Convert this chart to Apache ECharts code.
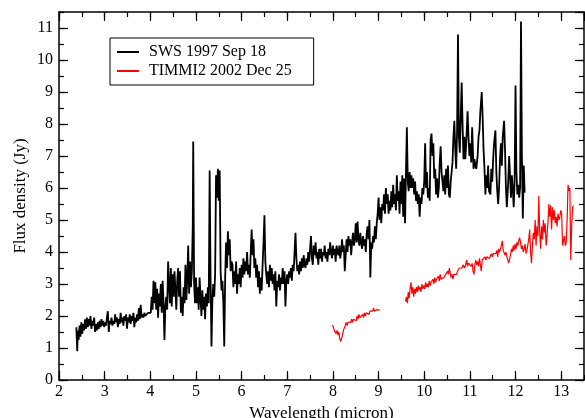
<!DOCTYPE html>
<html>
<head>
<meta charset="utf-8">
<script src="https://cdn.jsdelivr.net/npm/echarts@6.0.0/dist/echarts.min.js"></script>
<style>
  html, body { margin: 0; padding: 0; background: #fff; }
  #chart { width: 585px; height: 418px; }
</style>
</head>
<body>
<div id="chart"></div>
<script>
// SWS 1997 Sep 18 — [wavelength (micron), flux (Jy)]
const sws2to4 = [
  [2.38,1.65],[2.40,0.90],[2.41,1.55],[2.43,1.25],[2.45,1.70],[2.47,1.35],[2.49,1.80],[2.51,1.45],
  [2.53,1.75],[2.55,1.55],[2.57,1.90],[2.59,1.60],[2.61,1.95],[2.63,1.65],[2.65,1.90],[2.67,1.70],
  [2.69,2.00],[2.71,1.60],[2.73,1.85],[2.75,1.70],[2.77,1.95],[2.79,1.50],[2.81,1.75],[2.83,1.55],
  [2.85,1.80],[2.87,1.60],[2.89,1.85],[2.91,1.65],[2.93,1.90],[2.95,1.70],[2.97,1.85],[2.99,1.65],
  [3.01,1.80],[3.03,1.70],[3.05,1.95],[3.07,2.15],[3.09,1.50],[3.11,1.85],[3.13,1.75],[3.15,1.95],
  [3.17,1.70],[3.19,1.85],[3.21,1.75],[3.23,2.05],[3.25,1.80],[3.27,1.95],[3.29,1.65],[3.31,1.90],
  [3.33,1.75],[3.35,2.10],[3.37,1.80],[3.39,1.95],[3.41,1.70],[3.43,2.00],[3.45,1.85],[3.47,2.05],
  [3.49,1.60],[3.51,1.95],[3.53,1.80],[3.55,2.05],[3.57,1.75],[3.59,2.00],[3.61,1.85],[3.63,2.10],
  [3.65,1.65],[3.67,1.95],[3.69,1.80],[3.71,2.05],[3.73,1.85],[3.75,2.25],[3.77,1.90],[3.79,2.35],
  [3.81,1.95],[3.83,2.05],[3.85,1.95],[3.87,2.10],[3.89,2.00],[3.91,2.05],[3.93,2.00],[3.95,2.10],
  [3.97,2.05],[3.99,2.15],[4.01,2.10]
];
const sws4to6 = [
  [4.03,2.60],[4.05,2.20],[4.07,3.10],[4.09,2.40],[4.11,3.05],[4.13,2.20],[4.15,2.85],[4.17,1.95],
  [4.19,2.70],[4.21,2.30],[4.23,3.00],[4.25,2.10],[4.27,3.10],[4.29,2.40],[4.31,1.25],[4.33,2.30],
  [4.35,2.60],[4.37,2.20],[4.39,3.70],[4.41,3.00],[4.43,2.40],[4.45,3.50],[4.47,2.30],[4.49,3.30],
  [4.51,2.60],[4.53,3.40],[4.55,2.80],[4.57,2.20],[4.59,3.10],[4.61,3.50],[4.63,2.60],[4.65,3.40],
  [4.67,2.10],[4.69,2.60],[4.71,2.00],[4.73,2.90],[4.75,2.40],[4.77,3.60],[4.79,2.50],[4.81,3.20],
  [4.83,4.20],[4.85,2.70],[4.87,3.70],[4.89,2.90],[4.91,3.40],[4.93,4.80],[4.94,7.45],[4.96,3.00],
  [4.98,2.40],[5.00,3.20],[5.02,2.40],[5.04,2.90],[5.06,2.20],[5.08,3.20],[5.10,2.60],[5.12,2.00],
  [5.14,2.80],[5.16,2.20],[5.18,2.60],[5.20,1.90],[5.22,2.70],[5.24,2.30],[5.26,2.90],[5.28,2.40],
  [5.30,6.55],[5.32,3.20],[5.34,1.05],[5.36,2.50],[5.38,3.00],[5.40,2.60],[5.42,3.30],[5.44,6.40],
  [5.46,5.70],[5.48,6.60],[5.50,5.60],[5.52,6.55],[5.54,3.40],[5.56,2.80],[5.58,3.10],[5.60,2.40],
  [5.62,1.05],[5.64,3.20],[5.66,4.30],[5.68,3.50],[5.70,4.65],[5.72,3.90],[5.74,4.40],[5.76,3.40],
  [5.78,3.70],[5.80,3.60],[5.82,2.90],[5.84,3.40],[5.86,3.00],[5.88,3.70],[5.90,2.70],[5.92,3.30],
  [5.94,3.00],[5.96,3.50],[5.98,2.90]
];
const sws6to8 = [
  [6.00,3.60],[6.02,3.20],[6.04,3.80],[6.06,3.30],[6.08,3.70],[6.10,3.40],[6.12,4.00],[6.14,3.30],
  [6.16,3.60],[6.18,3.20],[6.20,4.00],[6.22,4.70],[6.24,3.90],[6.26,4.40],[6.28,3.50],[6.30,3.80],
  [6.32,3.20],[6.34,3.60],[6.36,2.90],[6.38,3.40],[6.40,2.70],[6.42,3.20],[6.44,2.80],[6.46,3.60],
  [6.48,4.30],[6.50,5.15],[6.52,3.70],[6.54,3.30],[6.56,3.00],[6.58,3.40],[6.60,2.90],[6.62,3.60],
  [6.64,3.10],[6.66,3.50],[6.68,3.00],[6.70,3.30],[6.72,2.80],[6.74,3.40],[6.76,2.30],[6.78,3.10],
  [6.80,2.90],[6.82,3.30],[6.84,2.80],[6.86,3.20],[6.88,3.00],[6.90,3.50],[6.92,3.00],[6.94,3.40],
  [6.96,2.30],[6.98,3.10],[7.00,3.30],[7.02,3.00],[7.04,3.40],[7.06,3.20],[7.08,3.50],[7.10,3.10],
  [7.12,3.60],[7.14,3.40],[7.16,4.00],[7.18,4.60],[7.20,3.80],[7.22,3.40],[7.24,3.60],[7.26,3.30],
  [7.28,3.70],[7.30,3.40],[7.32,3.80],[7.34,3.50],[7.36,3.90],[7.38,3.60],[7.40,3.50],[7.42,3.80],
  [7.44,3.60],[7.46,4.00],[7.48,3.70],[7.50,4.10],[7.52,4.50],[7.54,3.80],[7.56,3.60],[7.58,4.20],
  [7.60,3.90],[7.62,4.30],[7.64,3.80],[7.66,4.00],[7.68,3.60],[7.70,4.10],[7.72,3.80],[7.74,4.10],
  [7.76,3.70],[7.78,4.00],[7.80,3.90],[7.82,4.20],[7.84,3.80],[7.86,4.00],[7.88,3.70],[7.90,4.10],
  [7.92,3.90],[7.94,4.30],[7.96,4.00],[7.98,3.80]
];
const sws8to10 = [
  [8.00,4.20],[8.02,3.90],[8.04,4.10],[8.06,3.70],[8.08,4.20],[8.10,4.00],[8.12,3.90],[8.14,4.20],
  [8.16,3.80],[8.18,4.00],[8.20,4.40],[8.22,4.00],[8.24,4.20],[8.26,3.40],[8.28,3.90],[8.30,4.40],
  [8.32,4.00],[8.34,4.50],[8.36,4.20],[8.38,4.40],[8.40,3.90],[8.42,4.30],[8.44,4.60],[8.46,4.20],
  [8.48,4.40],[8.50,4.90],[8.52,4.30],[8.54,4.95],[8.56,4.40],[8.58,4.20],[8.60,4.60],[8.62,4.30],
  [8.64,4.10],[8.66,4.50],[8.68,4.20],[8.70,4.40],[8.72,4.00],[8.74,4.60],[8.76,4.80],[8.78,4.40],
  [8.80,5.00],[8.82,3.20],[8.84,4.30],[8.86,4.10],[8.88,4.50],[8.90,4.30],[8.92,4.80],[8.94,4.40],
  [8.96,4.90],[8.98,5.20],[9.00,5.70],[9.02,5.00],[9.04,5.40],[9.06,4.90],[9.08,5.50],[9.10,5.30],
  [9.12,5.80],[9.14,5.20],[9.16,6.00],[9.18,5.50],[9.20,5.80],[9.22,5.20],[9.24,5.60],[9.26,5.30],
  [9.28,5.90],[9.30,5.40],[9.32,6.10],[9.34,5.50],[9.36,5.80],[9.38,5.30],[9.40,6.40],[9.42,5.60],
  [9.44,5.90],[9.46,5.20],[9.48,6.20],[9.50,5.50],[9.52,6.40],[9.54,5.10],[9.56,6.30],[9.58,4.90],
  [9.60,6.50],[9.62,7.90],[9.64,6.20],[9.66,5.90],[9.68,6.50],[9.70,6.00],[9.72,6.40],[9.74,6.00],
  [9.76,6.30],[9.78,5.80],[9.80,6.20],[9.82,5.60],[9.84,5.90],[9.86,5.50],[9.88,5.80],[9.90,5.10],
  [9.92,5.70],[9.94,5.50],[9.96,6.00],[9.98,5.80]
];
const sws10to12 = [
  [10.00,6.20],[10.02,7.40],[10.04,6.00],[10.06,6.50],[10.08,5.70],[10.10,6.00],[10.12,5.60],[10.14,7.50],
  [10.16,7.70],[10.18,7.00],[10.20,7.40],[10.22,6.30],[10.24,6.60],[10.26,5.80],[10.28,6.30],[10.30,5.70],
  [10.32,6.00],[10.34,6.80],[10.36,7.30],[10.38,6.50],[10.40,6.20],[10.42,5.90],[10.44,6.40],[10.46,5.80],
  [10.48,6.60],[10.50,6.00],[10.52,6.70],[10.54,5.80],[10.56,5.70],[10.58,6.20],[10.60,6.50],[10.62,6.80],
  [10.64,7.60],[10.66,8.10],[10.68,7.20],[10.70,6.60],[10.72,7.80],[10.74,10.80],[10.76,7.60],[10.78,7.10],
  [10.80,8.20],[10.82,9.30],[10.84,8.00],[10.86,6.90],[10.88,7.60],[10.90,6.90],[10.92,7.40],[10.95,8.40],
  [10.97,7.60],[10.99,7.00],[11.01,7.40],[11.03,6.80],[11.05,7.90],[11.08,6.60],[11.10,6.90],[11.12,6.70],
  [11.14,6.60],[11.17,7.00],[11.19,7.60],[11.21,7.80],[11.23,8.40],[11.26,9.00],[11.28,8.20],[11.30,7.20],
  [11.32,6.60],[11.34,5.80],[11.36,6.40],[11.38,6.00],[11.40,6.70],[11.42,5.90],[11.45,5.80],[11.47,6.60],
  [11.49,6.20],[11.51,6.90],[11.53,7.40],[11.56,7.80],[11.58,6.50],[11.60,5.90],[11.62,5.50],[11.64,6.00],
  [11.66,6.90],[11.68,7.40],[11.70,6.70],[11.72,7.60],[11.75,8.10],[11.77,7.20],[11.79,6.00],[11.81,5.40],
  [11.84,6.20],[11.86,7.00],[11.88,6.40],[11.90,5.70],[11.92,6.40],[11.94,6.00],[11.96,5.40],[11.98,6.20],
  [12.00,9.20],[12.02,6.50],[12.04,5.80],[12.06,6.10],[12.08,5.70],[12.10,6.00],[12.12,11.20],[12.14,7.00],
  [12.16,5.05],[12.18,6.70],[12.20,5.85]
];

// TIMMI2 2002 Dec 25 — two separate pieces
const timmiShort = [
  [7.99,1.72],[8.01,1.65],[8.03,1.55],[8.05,1.60],[8.07,1.45],[8.09,1.55],[8.11,1.40],[8.13,1.50],
  [8.15,1.30],[8.17,1.20],[8.19,1.15],[8.21,1.40],[8.23,1.55],[8.25,1.50],[8.27,1.70],[8.29,1.80],
  [8.31,1.70],[8.33,1.80],[8.35,1.75],[8.37,1.85],[8.39,1.80],[8.41,1.90],[8.43,1.80],[8.45,1.90],
  [8.47,1.85],[8.49,1.95],[8.51,1.85],[8.53,2.00],[8.55,1.90],[8.57,2.05],[8.59,1.95],[8.61,2.00],
  [8.63,1.95],[8.65,2.05],[8.67,1.95],[8.69,2.10],[8.71,2.00],[8.73,2.10],[8.75,2.05],[8.77,2.15],
  [8.79,2.05],[8.81,2.15],[8.83,2.10],[8.85,2.20],[8.87,2.15],[8.89,2.25],[8.91,2.15],[8.93,2.20],
  [8.95,2.15],[8.97,2.20],[8.99,2.15],[9.01,2.20],[9.03,2.18]
];
const timmiLong = [
  [9.59,2.45],[9.61,2.60],[9.63,2.40],[9.65,2.75],[9.67,2.55],[9.69,2.85],[9.71,3.05],[9.73,2.70],
  [9.75,2.90],[9.77,2.60],[9.79,2.85],[9.81,2.70],[9.83,2.90],[9.85,2.75],[9.87,2.95],[9.89,2.80],
  [9.91,2.90],[9.93,2.75],[9.95,3.00],[9.97,2.85],[9.99,2.95],[10.01,2.85],[10.03,3.05],[10.05,2.90],
  [10.07,3.00],[10.09,2.90],[10.11,3.10],[10.13,2.95],[10.15,3.05],[10.17,3.00],[10.19,3.15],[10.21,3.00],
  [10.23,3.20],[10.25,3.05],[10.27,3.15],[10.29,3.10],[10.31,3.25],[10.33,3.10],[10.35,3.30],[10.37,3.15],
  [10.39,3.20],[10.41,3.10],[10.43,3.20],[10.45,3.15],[10.47,3.30],[10.49,3.25],[10.51,3.40],[10.53,3.30],
  [10.55,3.50],[10.57,3.35],[10.59,3.20],[10.61,3.30],[10.63,3.15],[10.65,3.30],[10.67,3.25],[10.69,3.35],
  [10.71,3.30],[10.73,3.40],[10.75,3.35],[10.77,3.50],[10.79,3.45],[10.81,3.55],[10.83,3.50],[10.85,3.60],
  [10.87,3.55],[10.89,3.50],[10.91,3.55],[10.93,3.75],[10.95,3.55],[10.97,3.65],[10.99,3.60],[11.01,3.70],
  [11.03,3.55],[11.05,3.65],[11.07,3.40],[11.09,3.30],[11.11,3.60],[11.13,3.75],[11.15,3.60],[11.17,3.70],
  [11.19,3.55],[11.21,3.80],[11.23,3.60],[11.25,3.40],[11.27,3.75],[11.29,3.80],[11.31,3.70],[11.33,3.85],
  [11.35,3.75],[11.37,3.85],[11.39,3.80],[11.41,3.90],[11.43,3.80],[11.45,3.85],[11.47,3.95],[11.49,3.85],
  [11.51,3.95],[11.53,3.90],[11.55,4.00],[11.57,3.95],[11.59,4.05],[11.61,3.85],[11.63,4.10],[11.65,4.00],
  [11.67,4.10],[11.69,4.20],[11.71,4.35],[11.73,4.05],[11.75,4.10],[11.77,3.90],[11.79,4.00],[11.81,3.85],
  [11.83,3.90],[11.85,3.65],[11.87,3.60],[11.89,3.90],[11.91,4.10],[11.93,4.00],[11.95,4.20],[11.97,4.05],
  [11.99,4.25],[12.01,4.10],[12.03,4.30],[12.05,4.20],[12.07,4.35],[12.09,4.45],[12.11,4.30],[12.13,4.10],
  [12.15,4.20],[12.17,4.00],[12.19,4.10],[12.21,4.25],[12.23,3.95],[12.25,4.05],[12.27,4.10],[12.29,4.40],
  [12.31,4.70],[12.33,4.00],[12.35,3.65],[12.37,4.20],[12.39,4.60],[12.41,4.40],[12.43,5.00],[12.45,4.20],
  [12.47,4.80],[12.49,4.50],[12.51,5.75],[12.53,4.60],[12.55,4.10],[12.57,4.80],[12.59,4.40],[12.61,5.00],
  [12.63,4.60],[12.65,4.90],[12.67,4.20],[12.69,4.50],[12.71,4.90],[12.73,5.50],[12.75,5.10],[12.77,5.45],
  [12.79,4.70],[12.81,5.40],[12.83,5.00],[12.85,5.30],[12.87,4.90],[12.89,5.10],[12.91,4.80],[12.93,5.20],
  [12.95,5.00],[12.97,5.10],[12.99,5.30],[13.01,5.20],[13.03,4.20],[13.05,4.15],[13.07,4.50],[13.09,4.20],
  [13.11,4.30],[13.13,5.00],[13.15,6.10],[13.17,5.90],[13.19,6.00],[13.21,3.75],[13.23,4.80],[13.25,5.40],
  [13.27,5.45]
];

const xRange = [2, 13.5];
const yRange = [0, 11.5];
const fontFamily = '"Liberation Serif", "DejaVu Serif", serif';

// one axis per side for the long ticks, one more for the short half-step ticks
const makeAxis = (position, range, interval, tickLen, main) => ({
  type: 'value',
  position: position,
  min: range[0],
  max: range[1],
  interval: interval,
  splitLine: { show: false },
  axisLine: { show: main, onZero: false, lineStyle: { color: '#000', width: 1.5 } },
  axisTick: { show: true, inside: true, length: tickLen, lineStyle: { color: '#000', width: 1.2 } },
  axisLabel: { show: false }
})

const xAxes = [
  makeAxis('bottom', xRange, 1, 9, true),
  makeAxis('bottom', xRange, 0.5, 5, false),
  makeAxis('top', xRange, 1, 9, true),
  makeAxis('top', xRange, 0.5, 5, false)
]
xAxes[0].axisLabel = {
  show: true, showMaxLabel: false, margin: 4,
  color: '#000', fontSize: 16, fontFamily: fontFamily
}
xAxes[0].name = 'Wavelength (micron)'
xAxes[0].nameLocation = 'middle'
xAxes[0].nameGap = 22
xAxes[0].nameTextStyle = { color: '#000', fontSize: 17, fontFamily: fontFamily }

const yAxes = [
  makeAxis('left', yRange, 1, 9, true),
  makeAxis('left', yRange, 0.5, 5, false),
  makeAxis('right', yRange, 1, 9, true),
  makeAxis('right', yRange, 0.5, 5, false)
]
yAxes[0].axisLabel = {
  show: true, showMaxLabel: false, margin: 6,
  color: '#000', fontSize: 16, fontFamily: fontFamily
}
yAxes[0].name = 'Flux density (Jy)'
yAxes[0].nameLocation = 'middle'
yAxes[0].nameGap = 30
yAxes[0].nameMoveOverlap = false
yAxes[0].nameTextStyle = { color: '#000', fontSize: 17, fontFamily: fontFamily }

const option = {
  animation: false,
  backgroundColor: '#fff',
  grid: { left: 59, right: 1, top: 12, bottom: 38, outerBoundsMode: 'none' },
  legend: {
    left: 110,
    top: 38,
    orient: 'vertical',
    padding: [6, 22, 6, 7],
    itemGap: 3,
    itemWidth: 22,
    itemHeight: 2,
    icon: 'rect',
    borderColor: '#000',
    borderWidth: 1,
    borderRadius: 0,
    backgroundColor: '#fff',
    textStyle: { color: '#000', fontSize: 16, fontFamily: fontFamily, padding: [0, 0, 0, 5] },
    data: ['SWS 1997 Sep 18', 'TIMMI2 2002 Dec 25']
  },
  xAxis: xAxes,
  yAxis: yAxes,
  series: [
    {
      name: 'SWS 1997 Sep 18',
      type: 'line',
      symbol: 'none',
      data: sws2to4.concat(sws4to6, sws6to8, sws8to10, sws10to12),
      itemStyle: { color: '#000' },
      lineStyle: { color: '#000', width: 1.8 }
    },
    {
      name: 'TIMMI2 2002 Dec 25',
      type: 'line',
      symbol: 'none',
      data: timmiShort,
      itemStyle: { color: '#ff0000' },
      lineStyle: { color: '#ff0000', width: 1.2 }
    },
    {
      name: 'TIMMI2 2002 Dec 25',
      type: 'line',
      symbol: 'none',
      data: timmiLong,
      itemStyle: { color: '#ff0000' },
      lineStyle: { color: '#ff0000', width: 1.2 }
    }
  ]
}

const chart = echarts.init(document.getElementById('chart'))
chart.setOption(option)
</script>
</body>
</html>
